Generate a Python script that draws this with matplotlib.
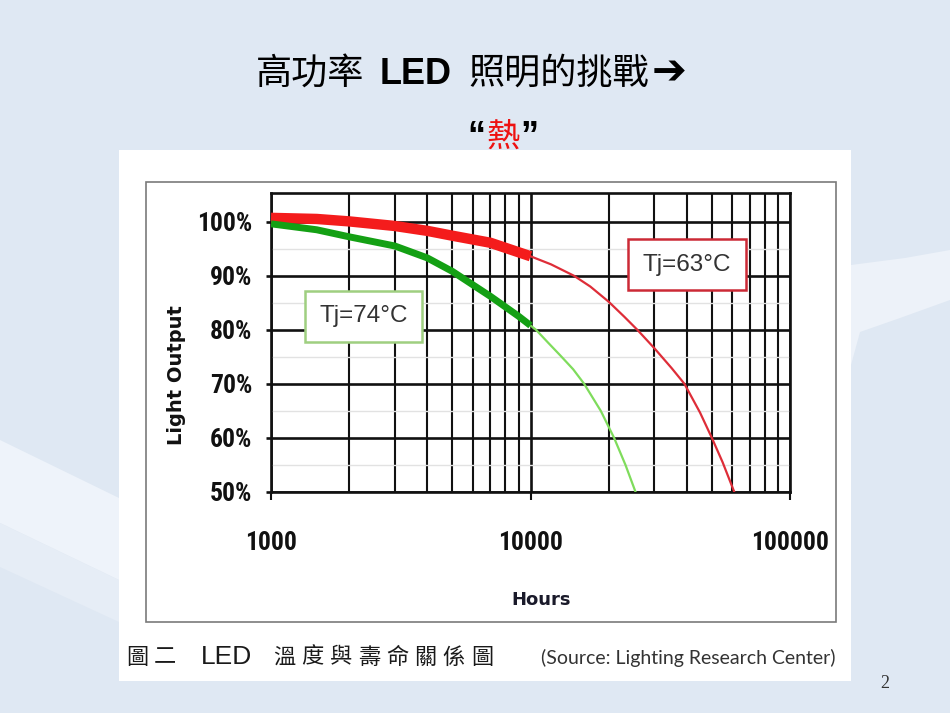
import matplotlib
matplotlib.use('Agg')
import matplotlib.pyplot as plt
from matplotlib.font_manager import FontProperties
from matplotlib.patches import Rectangle, Polygon
from matplotlib.ticker import LogLocator, NullFormatter

# Tj = 63 C curve (thick measured part, thin extrapolated part)
hours_63_thick = [1000, 1500, 2000, 3000, 4000, 5000, 7000, 10000]
output_63_thick = [100.7, 100.5, 100.05, 99.2, 98.3, 97.4, 96.1, 93.6]
hours_63_thin = [10000, 12000, 14700, 17000, 20000, 23000, 25800, 30000, 35000, 39200,
                 45000, 50000, 55000, 61000]
output_63_thin = [93.6, 92.1, 90.0, 88.0, 85.2, 82.4, 80.0, 76.6, 72.9, 70.0,
                  64.7, 60.0, 55.5, 50.0]

# Tj = 74 C curve
hours_74_thick = [1000, 1500, 2000, 3000, 4000, 5000, 7000, 9000, 10000]
output_74_thick = [99.6, 98.5, 97.2, 95.5, 93.3, 90.8, 86.2, 82.5, 80.8]
hours_74_thin = [10000, 10500, 11700, 13060, 14600, 16100, 18660, 21000, 23230, 25400]
output_74_thin = [80.8, 80.0, 77.6, 75.2, 72.7, 70.0, 65.0, 60.0, 55.0, 50.0]

x_ticks = [1000, 10000, 100000]
x_labels = ['1000', '10000', '100000']
y_ticks = [50, 60, 70, 80, 90, 100]
y_labels = ['50%', '60%', '70%', '80%', '90%', '100%']
y_minor = [55, 65, 75, 85, 95]

title_parts = ['高功率', 'LED', '照明的挑戰', '➔']
heat_parts = ['“', '熱', '”']
caption_cjk = ['圖', '二', '溫', '度', '與', '壽', '命', '關', '係', '圖']
source_text = '(Source: Lighting Research Center)'

W, H = 950, 713
CJK = ['Noto Sans CJK TC', 'DejaVu Sans']


def fx(px):
    return px / W


def fy(py):
    return 1 - py / H


fig = plt.figure(figsize=(9.5, 7.13), dpi=100)
fig.patch.set_facecolor('#dfe8f3')
renderer = fig.canvas.get_renderer()

# tick numbers: narrow bold face if there is one, sized so "100%" is ~55 px wide
tick_fp = FontProperties(family=['Roboto Condensed', 'Liberation Sans Narrow', 'Roboto', 'DejaVu Sans'],
                         weight='bold', size=20)
probe = fig.text(0, 0, '100%', fontproperties=tick_fp)
tick_size = 20.0 * 55 / probe.get_window_extent(renderer).width
probe.remove()
tick_fp.set_size(max(15.0, min(21.0, tick_size)))

# light swooshes of the slide background
fig.add_artist(Polygon([(fx(0), fy(440)), (fx(119), fy(498)), (fx(119), fy(580)), (fx(0), fy(523))],
                       closed=True, fc='#eef3fa', ec='none', transform=fig.transFigure, zorder=-10))
fig.add_artist(Polygon([(fx(0), fy(523)), (fx(119), fy(580)), (fx(119), fy(622)), (fx(0), fy(567))],
                       closed=True, fc='#e6edf6', ec='none', transform=fig.transFigure, zorder=-10))
fig.add_artist(Polygon([(fx(851), fy(265)), (fx(905), fy(258)), (fx(950), fy(250)), (fx(950), fy(300)),
                        (fx(900), fy(318)), (fx(860), fy(332)), (fx(851), fy(365))],
                       closed=True, fc='#edf2f9', ec='none', transform=fig.transFigure, zorder=-10))

# white picture box and its inner frame
fig.add_artist(Rectangle((fx(119), fy(681)), 732 / W, 531 / H, fc='white', ec='none',
                         transform=fig.transFigure, zorder=-5))
fig.add_artist(Rectangle((fx(146), fy(622)), 690 / W, 440 / H, fc='none', ec='#7a7a7a', lw=1.2,
                         transform=fig.transFigure, zorder=-4))

ax = fig.add_axes([fx(271), fy(492), (790 - 271) / W, (492 - 193) / H])
ax.set_zorder(2)
ax.set_xscale('log')
ax.set_xlim(1000, 100000)
ax.set_ylim(50, 105.3)

ax.set_xticks(x_ticks)
ax.set_xticklabels(x_labels, fontproperties=tick_fp)
ax.xaxis.set_minor_locator(LogLocator(base=10, subs=range(2, 10)))
ax.xaxis.set_minor_formatter(NullFormatter())
ax.set_yticks(y_ticks)
ax.set_yticklabels(y_labels, fontproperties=tick_fp)
ax.set_yticks(y_minor, minor=True)

ax.grid(True, which='major', axis='both', color='#111111', lw=1.9)
ax.grid(True, which='minor', axis='x', color='#111111', lw=1.5)
ax.grid(True, which='minor', axis='y', color='#e2e2e2', lw=1.0)
ax.set_axisbelow(True)
for s in ax.spines.values():
    s.set_linewidth(1.9)
    s.set_color('#111111')

ax.tick_params(axis='y', which='major', direction='out', length=3.6, width=1.9, pad=10, colors='#111111')
ax.tick_params(axis='x', which='major', direction='out', length=5.8, width=1.5, pad=22, colors='#111111')
ax.tick_params(which='minor', length=0)

# curves
ax.plot(hours_63_thin, output_63_thin, color='#de2d38', lw=1.6, zorder=3)
ax.plot(hours_74_thin, output_74_thin, color='#7fdc5c', lw=1.6, zorder=3)
ax.plot(hours_63_thick, output_63_thick, color='#f41c1c', lw=7.5, solid_capstyle='butt', zorder=4)
ax.plot(hours_74_thick, output_74_thick, color='#14a014', lw=5, solid_capstyle='butt', zorder=4)

ax.text(2270, 82.5, 'Tj=74°C', ha='center', va='center', fontsize=17.5, family='Liberation Sans',
        color='#333333', zorder=6,
        bbox=dict(boxstyle='square,pad=0.6', fc='white', ec='#9fcf80', lw=1.8))
ax.text(40100, 92.0, 'Tj=63°C', ha='center', va='center', fontsize=17.5, family='Liberation Sans',
        color='#333333', zorder=6,
        bbox=dict(boxstyle='square,pad=0.6', fc='white', ec='#cc2a36', lw=1.8))

ax.set_xlabel('Hours', fontsize=13, fontweight='bold', family='DejaVu Sans', color='#1a1a2a')
ax.xaxis.set_label_coords((541 - 271) / 519, (492 - 600) / 299)
ax.xaxis.label.set_va('center')
ax.set_ylabel('Light Output', fontsize=14, fontweight='bold', family='DejaVu Sans', color='#111111')
ax.yaxis.set_label_coords((177 - 271) / 519, (492 - 375) / 299)
ax.yaxis.label.set_va('center')


# lays out text pieces side by side on one baseline, centred on xc (pixels)
def put_row(parts, styles, gaps, xc, ybase):
    texts = []
    for p, st in zip(parts, styles):
        texts.append(fig.text(0, fy(ybase), p, va='baseline', ha='left', **st))
    widths = [t.get_window_extent(renderer).width for t in texts]
    total = sum(widths) + sum(gaps)
    x = xc - total / 2
    for i, t in enumerate(texts):
        t.set_x(fx(x))
        x += widths[i] + (gaps[i] if i < len(gaps) else 0)


cjk_title = dict(family=CJK, fontsize=26, color='black')
put_row(title_parts,
        [cjk_title, dict(family='Liberation Sans', fontsize=26, fontweight='bold', color='black'),
         cjk_title, dict(family='DejaVu Sans', fontsize=30, fontweight='bold', color='black')],
        [16, 16, 3], 471, 84)
put_row(heat_parts,
        [dict(family='Liberation Sans', fontsize=26, fontweight='bold', color='black'),
         dict(family=CJK, fontsize=24, color='#ee1111'),
         dict(family='Liberation Sans', fontsize=26, fontweight='bold', color='black')],
        [1, 1], 503, 147)

# caption under the chart
cap_x = [137, 165, 284, 312.3, 340.6, 368.9, 397.2, 425.5, 453.8, 482.1]
for ch, x in zip(caption_cjk, cap_x):
    fig.text(fx(x), fy(657), ch, ha='center', va='center', family=CJK, fontsize=16,
             color='#1a1a1a')
fig.text(fx(226.5), fy(657), 'LED', ha='center', va='center', family='Liberation Sans',
         fontsize=19, color='#1a1a1a')
fig.text(fx(688), fy(658), source_text, ha='center', va='center', family='Lato',
         fontsize=14, color='#333333')

fig.text(fx(885), fy(683), '2', ha='center', va='center', family='Liberation Serif',
         fontsize=13, color='#333333')

fig.savefig('out.png', dpi=100, facecolor=fig.get_facecolor())
